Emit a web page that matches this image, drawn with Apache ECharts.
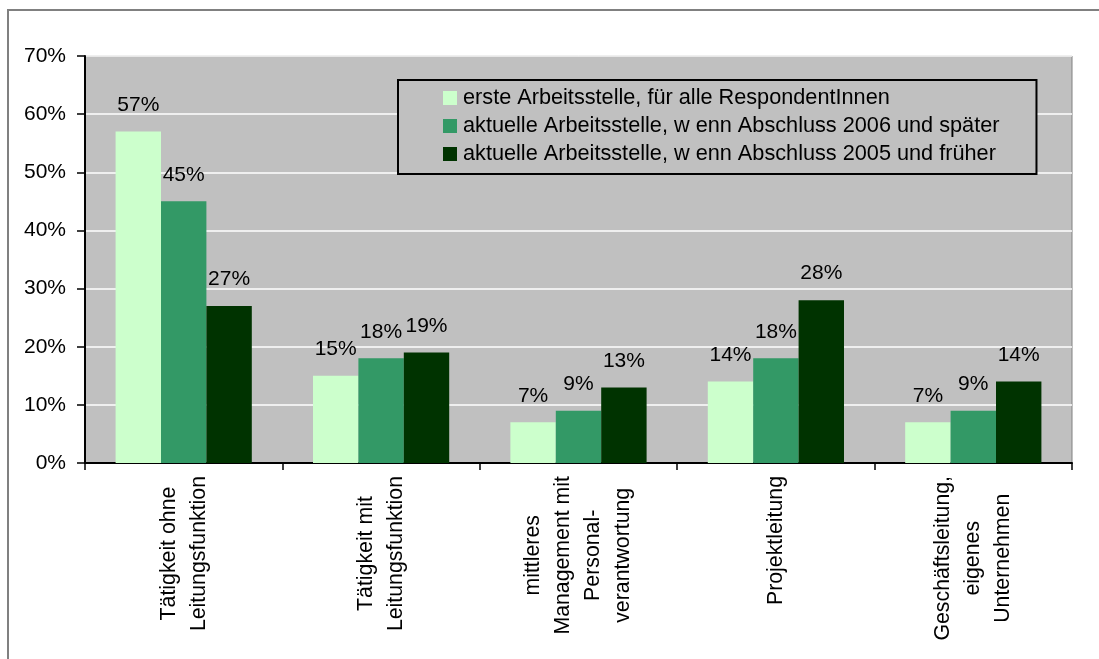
<!DOCTYPE html>
<html>
<head>
<meta charset="utf-8">
<script src="https://cdn.jsdelivr.net/npm/echarts@6/dist/echarts.min.js"></script>
<style>
  html, body { margin: 0; padding: 0; background: #ffffff; }
  #chart { width: 1099px; height: 659px; }
</style>
</head>
<body>
<div id="chart"></div>
<script>
// Categories (line breaks as shown under the axis)
const categories = [
  'Tätigkeit ohne\nLeitungsfunktion',
  'Tätigkeit mit\nLeitungsfunktion',
  'mittleres\nManagement mit\nPersonal-\nverantwortung',
  'Projektleitung',
  'Geschäftsleitung,\neigenes\nUnternehmen'
];

// Series names
const seriesNames = [
  'erste Arbeitsstelle, für alle RespondentInnen',
  'aktuelle Arbeitsstelle, w enn Abschluss 2006 und später',
  'aktuelle Arbeitsstelle, w enn Abschluss 2005 und früher'
];

// Values in percent
const ersteStelle = [57, 15, 7, 14, 7];
const aktuell2006 = [45, 18, 9, 18, 9];
const aktuell2005 = [27, 19, 13, 28, 14];

const seriesColors = ['#CCFFCC', '#339966', '#003300'];

const FONT = "'Liberation Sans', Arial, sans-serif";

const chart = echarts.init(document.getElementById('chart'), null, { renderer: 'canvas' });

function barSeries(name, data, color) {
  return {
    name: name,
    type: 'bar',
    data: data,
    barGap: '0%',
    barCategoryGap: '31%',
    itemStyle: { color: color },
    label: {
      show: true,
      position: 'top',
      distance: 16,
      formatter: '{c}%',
      color: '#000',
      fontFamily: FONT,
      fontSize: 21
    },
    emphasis: { disabled: true },
    animation: false
  };
}

chart.setOption({
  backgroundColor: '#ffffff',
  animation: false,
  textStyle: { fontFamily: FONT },
  graphic: [{
    type: 'rect',
    silent: true,
    z: 0,
    shape: { x: 8, y: 10, width: 1300, height: 900 },
    style: { fill: 'none', stroke: '#808080', lineWidth: 2 }
  }],
  grid: {
    left: 85,
    right: 27,
    top: 56,
    bottom: 196,
    show: true,
    backgroundColor: '#C0C0C0',
    borderColor: '#808080',
    borderWidth: 1
  },
  legend: {
    orient: 'vertical',
    left: 398,
    top: 80,
    padding: [7, 37, 9, 45],
    itemGap: 6,
    itemWidth: 14,
    itemHeight: 14,
    icon: 'rect',
    backgroundColor: '#C0C0C0',
    borderColor: '#000',
    borderWidth: 2,
    textStyle: { color: '#000', fontFamily: FONT, fontSize: 21.7, lineHeight: 20, padding: [0, 0, 0, 1] },
    data: seriesNames
  },
  xAxis: {
    type: 'category',
    data: categories,
    axisLine: { lineStyle: { color: '#000', width: 2 } },
    axisTick: { show: true, length: 7, interval: 0, lineStyle: { color: '#000', width: 1.5 } },
    axisLabel: {
      interval: 0,
      rotate: 90,
      margin: 13,
      color: '#000',
      fontFamily: FONT,
      fontSize: 21.3,
      formatter: function (v) {
        return v.split('\n').map(function (l) { return '{c|' + l + '}'; }).join('\n');
      },
      rich: {
        c: { align: 'center', fontFamily: FONT, fontSize: 21.3, lineHeight: 30, color: '#000' }
      }
    },
    splitLine: { show: false }
  },
  yAxis: {
    type: 'value',
    min: 0,
    max: 70,
    interval: 10,
    axisLine: { show: true, lineStyle: { color: '#000', width: 2 } },
    axisTick: { show: true, length: 8, lineStyle: { color: '#000', width: 1.5 } },
    axisLabel: {
      formatter: '{value}%',
      margin: 19,
      color: '#000',
      fontFamily: FONT,
      fontSize: 21
    },
    splitLine: { show: true, lineStyle: { color: '#ffffff', width: 1.5 } }
  },
  series: [
    barSeries(seriesNames[0], ersteStelle, seriesColors[0]),
    barSeries(seriesNames[1], aktuell2006, seriesColors[1]),
    barSeries(seriesNames[2], aktuell2005, seriesColors[2])
  ]
});
</script>
</body>
</html>
